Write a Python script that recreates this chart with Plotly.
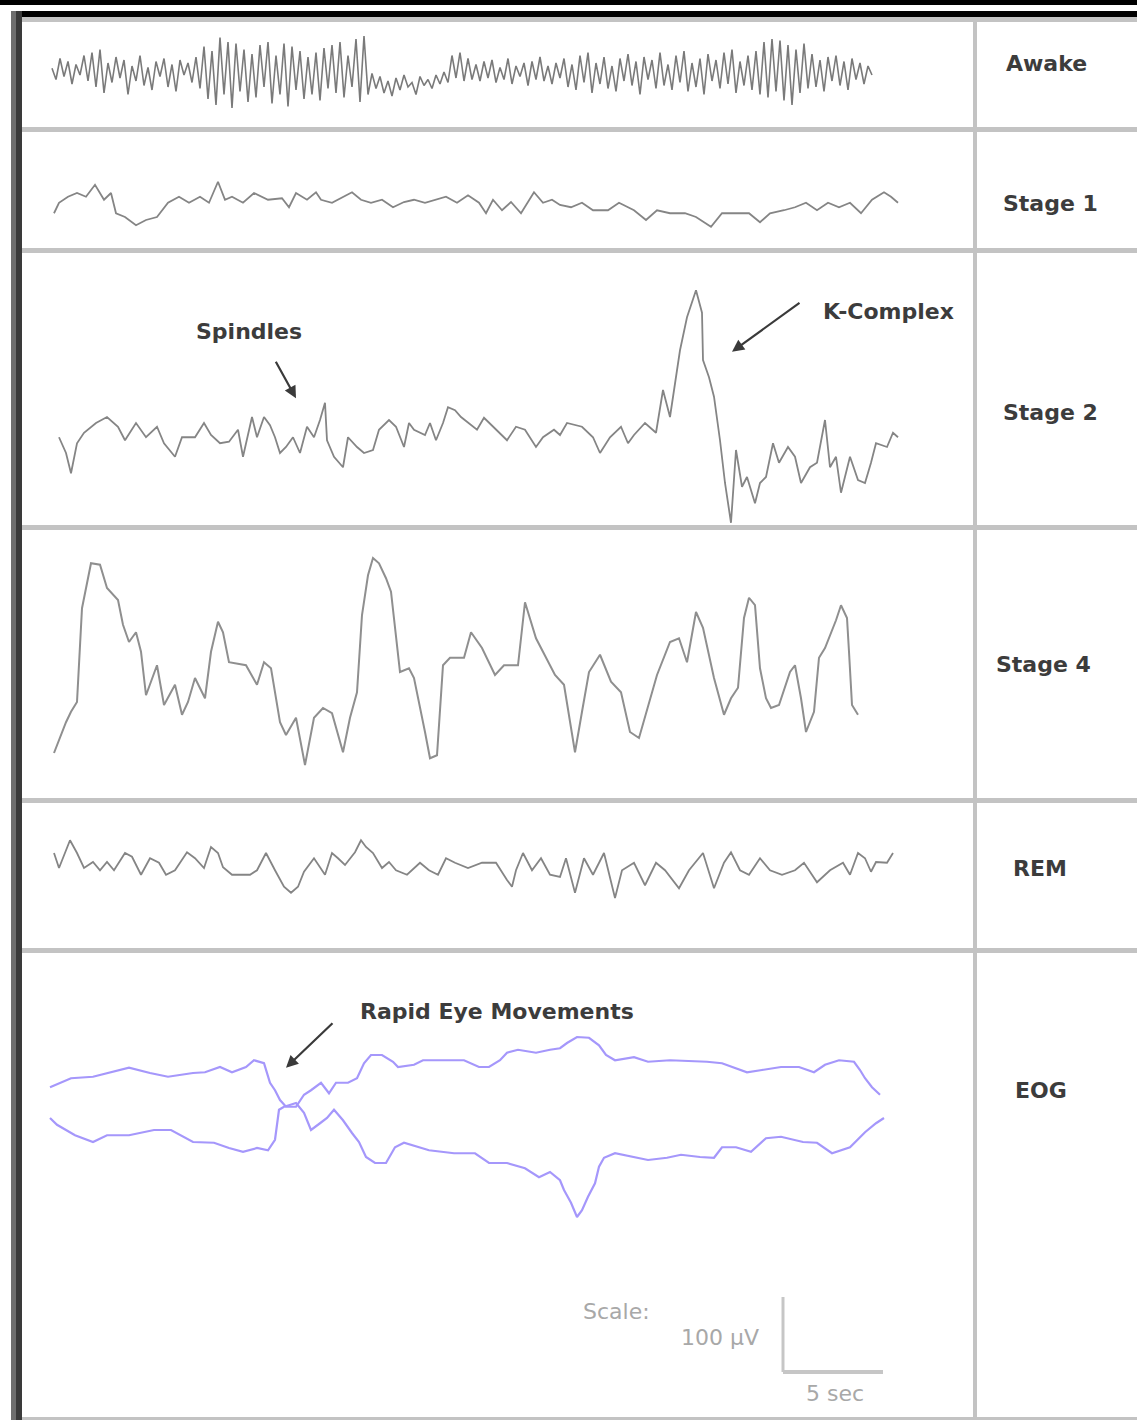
import numpy as np
import plotly.graph_objects as go

W, H = 1137, 1420

# ---------------- data: time in seconds, amplitude in µV ----------------
ROW_LABELS = ["Awake", "Stage 1", "Stage 2", "Stage 4", "REM", "EOG"]

AWAKE_T0 = 0.1
AWAKE_DT = 0.2
awake_uv = [5, -10, 18, -6, 14, -16, 10, -4, 22, -12,
            26, -20, 30, -28, 12,
            -14, 20, -8, 16, -30, 8, -12, 22, -18, 6, -24, 14, -6, 18, -20, 10, -26, 16, -4, 12, -14, 20,
            -22, 34, -36, 28, -44, 46, -30, 40, -48, 38, -26,
            30, -40, 24, -34, 36, -20, 40, -42, 22, -30, 38, -46, 34, -24, 28, -36, 20, -30, 26, -38, 32, -22,
            36, -28, 40, -34, 22, -20, 44, -40, 48, -30,
            -2, -22, -6, -28, -12, -32, -8, -24, -4, -20, -14, -30, -6, -18, -10, -22, -4, -16, 0, -14,
            22, -8, 26, -12, 18, -10,
            10, -12, 14, -8, 16, -14, 6, -10, 18, -16, 8, -6, 12, -18, 14, -10, 20, -12, 8, -16, 12, -8,
            18, -20, 10, -24, 22, -14, 26, -28, 12, -16, 20, -22, 8, -26, 18, -12, 24, -18, 14, -30,
            20, -10, 16, -22, 26, -18, 10, -24, 22, -14, 28, -26, 12, -20, 18, -30, 24, -12, 16, -22,
            26, -16, 30, -28, 14, -18, 22, -24, 28,
            -30, 40, -34, 44, -26, 42, -38, 36, -44, 30, -28, 38, -22,
            24, -20, 16, -26, 20, -12, 22, -18, 14, -24, 18, -10, 12, -16, 8, -4]

stage1_t = [0.2, 0.45, 0.9, 1.35, 1.8, 2.25, 2.7, 3.05, 3.3, 3.75, 4.3, 4.8, 5.35, 5.9, 6.45, 6.95, 7.5, 7.95,
            8.4, 8.75, 9.1, 9.65, 10.2, 10.9, 11.6, 11.95, 12.3, 12.85, 13.3, 13.55, 14.1, 14.65, 15.1, 15.55,
            16.05, 16.6, 17.15, 17.7, 18.2, 18.75, 19.3, 19.8, 20.35, 20.9, 21.45, 21.8, 22.15, 22.6, 23.05,
            23.55, 24.2, 24.65, 25.1, 25.5, 26.05, 26.6, 27.15, 27.9, 28.45, 29.2, 29.8, 30.35, 31.0, 31.75,
            32.3, 33.05, 33.6, 34.3, 34.95, 35.5, 36.0, 36.7, 37.25, 37.8, 38.35, 38.9, 39.45, 40.0, 40.55,
            41.1, 41.7, 42.05, 42.4]
stage1_uv = [-11, 3, 11, 16, 11, 27, 7, 16, -11, -16, -27, -20, -16, 3, 11, 3, 11, 3, 31, 7,
             11, 3, 16, 7, 9, -3, 16, 7, 17, 7, 3, 11, 17, 7, 3, 7, -3, 4, 7, 3,
             7, 11, 3, 13, 3, -11, 7, -7, 4, -11, 17, 3, 7, 0, -3, 3, -7, -7, 3, -7,
             -20, -7, -11, -11, -16, -29, -11, -11, -11, -23, -11, -7, -3, 3, -7, 3, -3, 3, -11, 7,
             17, 11, 3]

stage2_t = [0.45, 0.8, 1.05, 1.35, 1.7, 2.3, 2.85, 3.4, 3.75, 4.3, 4.8, 5.35, 5.7, 6.25, 6.6, 7.25, 7.7, 8.05,
            8.5, 8.95, 9.4, 9.65, 10.1, 10.35, 10.7, 11.0, 11.25, 11.5, 11.8, 12.15, 12.5, 12.85, 13.2, 13.5,
            13.75, 13.85, 14.2, 14.65, 14.9, 15.35, 15.7, 16.15, 16.45, 16.95, 17.3, 17.7, 17.95, 18.2, 18.75,
            19.0, 19.3, 19.65, 19.9, 20.25, 20.55, 20.9, 21.35, 21.7, 22.15, 22.5, 22.85, 23.3, 23.75, 24.3,
            24.65, 25.2, 25.5, 25.85, 26.6, 27.15, 27.5, 28.0, 28.55, 28.9, 29.2, 29.75, 30.3, 30.65, 31.0,
            31.5, 31.85, 32.3, 32.6, 32.65, 32.95, 33.2, 33.5, 33.75, 34.05, 34.3, 34.6, 34.85, 35.25, 35.5,
            35.8, 36.15, 36.45, 36.9, 37.25, 37.55, 38.0, 38.35, 38.75, 39.0, 39.3, 39.55, 40.0, 40.4, 40.75,
            41.05, 41.3, 41.85, 42.15, 42.4]
stage2_uv = [-3, -24, -51, -11, 3, 16, 24, 11, -7, 16, -3, 11, -11, -29, -3, -3, 16, 0, -11, -9,
             7, -29, 24, -3, 24, 13, -3, -24, -16, -3, -24, 11, -3, 20, 43, -7, -29, -43, -3, -16,
             -24, -20, 7, 20, 11, -16, 16, 7, 0, 16, -7, 16, 37, 33, 24, 16, 7, 23, 11, 3,
             -7, 11, 7, -16, -3, 7, 0, 16, 11, -3, -24, -3, 11, -11, 0, 16, 3, 60, 24, 113,
             157, 193, 163, 100, 77, 51, -7, -64, -117, -20, -69, -56, -91, -64, -56, -11, -37, -16, -29, -64,
             -43, -37, 20, -43, -29, -77, -29, -60, -64, -37, -11, -16, 3, -3]

stage4_t = [0.2, 0.8, 1.05, 1.35, 1.6, 2.05, 2.5, 2.85, 3.4, 3.65, 3.95, 4.3, 4.55, 4.8, 5.35, 5.7, 6.25, 6.6,
            6.9, 7.25, 7.75, 8.05, 8.4, 8.65, 8.95, 9.8, 10.35, 10.7, 11.05, 11.5, 11.8, 12.3, 12.75, 13.2,
            13.65, 14.1, 14.65, 15.0, 15.35, 15.6, 15.9, 16.15, 16.45, 16.8, 17.05, 17.3, 17.5, 17.95, 18.2,
            18.75, 19.0, 19.35, 19.65, 20.0, 20.7, 21.05, 21.6, 22.25, 22.7, 23.4, 23.75, 24.3, 24.8, 25.25,
            25.7, 26.25, 26.6, 26.95, 27.5, 28.05, 28.55, 29.0, 29.45, 30.0, 30.35, 31.0, 31.45, 31.85, 32.3,
            32.65, 33.2, 33.7, 34.05, 34.4, 34.7, 34.95, 35.25, 35.5, 35.8, 36.05, 36.45, 37.0, 37.25, 37.55,
            37.8, 38.2, 38.45, 38.75, 39.3, 39.55, 39.85, 39.95, 40.1, 40.4]
stage4_uv = [-124, -83, -69, -56, 69, 129, 127, 96, 80, 47, 24, 37, 11, -47, -7, -60, -33, -73, -56, -24,
             -51, 11, 51, 37, -3, -7, -33, -3, -11, -83, -100, -77, -140, -77, -64, -71, -123, -77, -43, 60,
             113, 136, 129, 109, 91, 33, -16, -11, -24, -96, -131, -127, -7, 3, 3, 37, 16, -20, -7, -7,
             77, 29, 3, -20, -33, -123, -69, -16, 7, -29, -43, -96, -104, -51, -20, 24, 29, -3, 64, 43,
             -24, -73, -51, -37, 56, 83, 73, -11, -51, -64, -60, -16, -7, -51, -96, -69, 3, 16, 53, 73,
             56, 11, -60, -73]

rem_t = [0.2, 0.45, 1.0, 1.35, 1.7, 2.15, 2.5, 2.85, 3.2, 3.75, 4.1, 4.55, 5.0, 5.45, 5.8, 6.25, 6.85, 7.25,
         7.7, 8.05, 8.4, 8.65, 9.1, 10.0, 10.35, 10.8, 11.25, 11.7, 12.05, 12.4, 12.7, 13.2, 13.75, 14.1,
         14.4, 14.75, 15.25, 15.55, 15.8, 16.15, 16.6, 16.95, 17.3, 17.85, 18.5, 18.95, 19.4, 19.8, 20.25,
         20.9, 21.6, 22.3, 22.85, 23.1, 23.3, 23.65, 24.1, 24.55, 25.0, 25.5, 25.8, 26.25, 26.7, 27.15,
         27.7, 28.25, 28.6, 29.2, 29.75, 30.3, 30.75, 31.45, 31.95, 32.65, 33.2, 33.7, 34.05, 34.5, 34.95,
         35.5, 36.0, 36.6, 37.25, 37.7, 38.35, 39.0, 39.65, 40.0, 40.4, 40.75, 41.05, 41.3, 41.85, 42.15]
rem_uv = [12, -8, 29, 12, -8, 0, -11, 0, -11, 12, 7, -17, 5, -1, -17, -11, 13, 5, -8, 20,
          12, -7, -17, -17, -11, 12, -11, -33, -41, -33, -13, 5, -17, 12, 5, -4, 13, 29, 20, 12,
          -8, 0, -11, -17, -1, -11, -17, 5, -1, -8, -1, -1, -24, -33, -11, 12, -11, 5, -17, -20,
          5, -41, 5, -17, 12, -48, -11, -1, -31, -1, -11, -35, -11, 12, -35, -1, 13, -11, -17, 5,
          -11, -17, -11, -1, -27, -11, -1, -17, 12, 5, -13, 0, -1, 12]

eog_top_t = [0, 0.55, 1.05, 2.15, 2.85, 3.95, 5.0, 5.9, 7.15, 7.75, 8.5, 9.1, 9.8, 10.2, 10.7, 11.0, 11.25,
             11.5, 11.8, 12.3, 12.7, 13.05, 13.55, 13.95, 14.3, 14.9, 15.35, 15.7, 16.05, 16.6, 17.15, 17.4,
             18.2, 18.65, 19.65, 20.7, 21.45, 21.95, 22.5, 22.85, 23.4, 24.3, 25.0, 25.5, 25.85, 26.35,
             26.95, 27.45, 27.8, 28.25, 29.2, 29.9, 31.0, 32.85, 33.6, 34.15, 34.85, 35.6, 36.55, 37.45,
             38.2, 38.75, 39.45, 40.2, 40.5, 40.75, 41.1, 41.5]
eog_top_uv = [17, 23, 29, 31, 36, 43, 36, 31, 36, 37, 44, 37, 44, 53, 49, 23, 13, 0, -9, -9,
              7, 13, 23, 9, 23, 23, 29, 49, 60, 60, 51, 44, 47, 53, 53, 53, 44, 44, 53, 63,
              67, 63, 67, 69, 76, 84, 83, 73, 60, 53, 57, 51, 53, 51, 49, 44, 37, 40, 44, 44,
              37, 47, 53, 51, 40, 29, 17, 7]

eog_bot_t = [0, 0.35, 0.8, 1.25, 2.15, 2.85, 3.95, 5.2, 6.05, 7.15, 8.2, 8.95, 9.65, 10.35, 10.9, 11.25,
             11.45, 11.7, 11.95, 12.3, 12.7, 13.05, 13.5, 13.85, 14.2, 14.65, 15.1, 15.45, 15.8, 16.25,
             16.8, 17.25, 17.7, 18.95, 20.2, 21.25, 21.95, 22.85, 23.75, 24.45, 25.0, 25.5, 25.7, 26.05,
             26.35, 26.6, 26.9, 27.25, 27.45, 27.7, 28.25, 29.2, 29.9, 30.85, 31.55, 32.5, 33.2, 33.6,
             34.3, 35.05, 35.8, 36.55, 37.65, 38.35, 39.1, 40.0, 40.4, 40.75, 41.3, 41.7]
eog_bot_uv = [-24, -33, -40, -47, -56, -47, -47, -40, -40, -56, -57, -64, -69, -64, -67, -53, -13, -9, -7, -4,
              -17, -40, -31, -24, -13, -27, -44, -56, -76, -84, -84, -63, -57, -67, -71, -71, -84, -84, -91, -103,
              -96, -107, -120, -137, -156, -147, -129, -111, -89, -77, -71, -76, -80, -77, -73, -76, -77, -63, -63, -69,
              -51, -49, -56, -57, -71, -63, -53, -43, -31, -24]

SCALE_UV = 100   # vertical scale bar, µV
SCALE_S = 5      # horizontal scale bar, s

for a, b in [(stage1_t, stage1_uv), (stage2_t, stage2_uv), (stage4_t, stage4_uv),
             (rem_t, rem_uv), (eog_top_t, eog_top_uv), (eog_bot_t, eog_bot_uv)]:
    assert len(a) == len(b), (len(a), len(b))

awake_t = AWAKE_T0 + AWAKE_DT * np.arange(len(awake_uv))

# ---------------- layout geometry (pixels) ----------------
PX_PER_S = 20.0
PX_PER_UV = 0.75
X0_PX = 50.0
ROW_TOP = [22, 132, 253, 530, 803, 953]
ROW_BOT = [127, 248, 525, 798, 948, 1417]
ROW_MID = [72, 205, 435, 660, 862, 1100]
LABEL_X = [1046, 1050, 1050, 1043, 1040, 1041]
LABEL_Y = [63, 203, 412, 664, 868, 1090]


def px(x):
    return x / W


def py(y):
    return 1 - y / H


fig = go.Figure()
GRAY = "#858585"
PURPLE = "#a597fb"

series = [
    (0, awake_t, awake_uv, "#7a7a7a", 1.6),
    (1, stage1_t, stage1_uv, GRAY, 1.8),
    (2, stage2_t, stage2_uv, GRAY, 1.8),
    (3, stage4_t, stage4_uv, "#8f8f8f", 2.0),
    (4, rem_t, rem_uv, GRAY, 1.8),
    (5, eog_top_t, eog_top_uv, PURPLE, 2.2),
    (5, eog_bot_t, eog_bot_uv, PURPLE, 2.2),
]
for r, t, v, col, wd in series:
    fig.add_trace(go.Scatter(x=t, y=v, mode="lines",
                             line=dict(color=col, width=wd),
                             xaxis="x", yaxis="y" if r == 0 else f"y{r+1}",
                             hoverinfo="skip", showlegend=False))

layout_axes = {}
layout_axes["xaxis"] = dict(domain=[0, 1], range=[-X0_PX / PX_PER_S, (W - X0_PX) / PX_PER_S],
                            visible=False, fixedrange=True)
for r in range(6):
    key = "yaxis" if r == 0 else f"yaxis{r+1}"
    layout_axes[key] = dict(domain=[py(ROW_BOT[r]), py(ROW_TOP[r])],
                            range=[(ROW_MID[r] - ROW_BOT[r]) / PX_PER_UV, (ROW_MID[r] - ROW_TOP[r]) / PX_PER_UV],
                            visible=False, fixedrange=True, anchor="x")

shapes = []


def rect(x0, y0, x1, y1, color):
    shapes.append(dict(type="rect", xref="paper", yref="paper",
                       x0=px(x0), x1=px(x1), y0=py(y1), y1=py(y0),
                       fillcolor=color, line=dict(width=0), layer="above"))


LINE_GRAY = "#c3c3c3"
rect(0, 0, W, 5, "#000000")
rect(11, 11, W, 17, "#000000")
rect(22, 17, W, 22, LINE_GRAY)
for y0, y1 in [(127, 132), (248, 253), (525, 530), (798, 803), (948, 953), (1417, 1420)]:
    rect(22, y0, W, y1, LINE_GRAY)
rect(973, 17, 977, H, LINE_GRAY)
rect(11, 11, 16, H, "#6e6e6e")
rect(16, 11, 22, H, "#3a3a3a")

# scale bar (in EOG axis units)
bar_t0 = (783 - X0_PX) / PX_PER_S
bar_v0 = (ROW_MID[5] - 1372) / PX_PER_UV
shapes.append(dict(type="line", xref="x", yref="y6", x0=bar_t0, x1=bar_t0,
                   y0=bar_v0, y1=bar_v0 + SCALE_UV, line=dict(color="#c6c6c6", width=3)))
shapes.append(dict(type="line", xref="x", yref="y6", x0=bar_t0, x1=bar_t0 + SCALE_S,
                   y0=bar_v0, y1=bar_v0, line=dict(color="#c6c6c6", width=4)))

LABEL_FONT = dict(family="DejaVu Sans", size=22, color="#3c3c3c", weight="bold")
annotations = []
for r, lab in enumerate(ROW_LABELS):
    annotations.append(dict(text=lab, xref="paper", yref="paper", x=px(LABEL_X[r]), y=py(LABEL_Y[r]),
                            showarrow=False, xanchor="center", yanchor="middle", font=LABEL_FONT))

for text, cx, cy in [("Spindles", 249, 331), ("K-Complex", 888, 311), ("Rapid Eye Movements", 497, 1011)]:
    annotations.append(dict(text=text, xref="paper", yref="paper", x=px(cx), y=py(cy),
                            showarrow=False, xanchor="center", yanchor="middle", font=LABEL_FONT))

# arrows: (axis, t, v of tip, tail offset px)
for yref, t, v, ax, ay in [("y3", 12.3, 49, -21, -38), ("y3", 34.1, 111, 69, -50), ("y6", 11.8, 43, 48, -46)]:
    annotations.append(dict(text="", xref="x", yref=yref, x=t, y=v, ax=ax, ay=ay,
                            showarrow=True, arrowhead=2, arrowsize=1.1, arrowwidth=2.2,
                            arrowcolor="#3a3a3a", standoff=0))

SCALE_FONT = dict(family="DejaVu Sans", size=22, color="#a8a8a8")
for text, cx, cy in [("Scale:", 616, 1311), ("100 µV", 720, 1337), ("5 sec", 835, 1393)]:
    annotations.append(dict(text=text, xref="paper", yref="paper", x=px(cx), y=py(cy),
                            showarrow=False, xanchor="center", yanchor="middle", font=SCALE_FONT))

fig.update_layout(width=W, height=H, margin=dict(l=0, r=0, t=0, b=0),
                  paper_bgcolor="white", plot_bgcolor="white",
                  showlegend=False, shapes=shapes, annotations=annotations, **layout_axes)

fig.write_html("out.html", config={"displayModeBar": False})
